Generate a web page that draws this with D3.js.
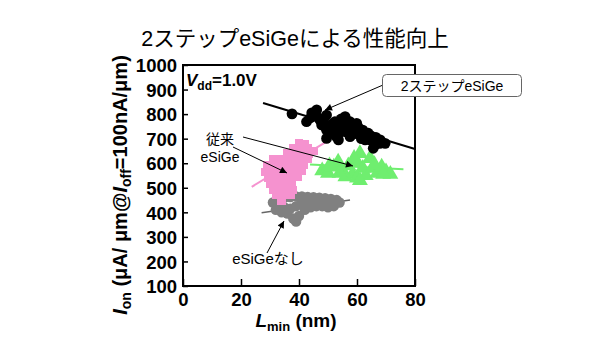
<!DOCTYPE html>
<html><head><meta charset="utf-8">
<script src="https://cdn.jsdelivr.net/npm/d3@7"></script>
<style>
body{margin:0;background:#fff;}
text{font-family:"Liberation Sans","Noto Sans CJK JP",Arial,sans-serif;}
</style></head>
<body><svg id="c" width="600" height="360"></svg>
<script>
// ---- data (Lmin nm, Ion uA/um) ----
const title = "2ステップeSiGeによる性能向上";
const xTicks = [0, 20, 40, 60, 80];
const yTicks = [100, 200, 300, 400, 500, 600, 700, 800, 900, 1000];

const twoStep = [[37.6,801],[42.6,769],[44.4,805],[46.1,817],[46.7,785],[47.2,776],[47.8,756],[49,749],[49.5,796],[49.5,735],[50.7,722],[49.5,701],[51.5,760],[52.4,769],[52.9,708],[53.6,695],[53.4,745],[54.5,780],[55.9,790],[55.3,742],[56.5,760],[57.6,769],[57.6,708],[58.7,735],[59.9,762],[60.5,745],[61,715],[62,735],[62.8,695],[63.9,722],[64.5,695],[65.6,661],[66.2,674],[66.5,705],[67.9,681],[69.7,681],[44,785],[45.5,795],[48.5,770],[51,745],[54,725],[56,728],[59,720],[61.5,700],[68,695],[65,710]];
const twoStepFit = [[27.6,845],[80,658]];

const conv = [[40,683],[42,678],[38,660],[40.5,660],[43,660],[45,650],[36,640],[38.5,640],[41,640],[43.5,640],[31,615],[33.5,615],[36,615],[38.5,615],[41,615],[43,618],[29,590],[31.5,590],[34,590],[36.5,590],[39,590],[41.5,592],[28.5,565],[31,565],[33.5,565],[36,565],[38.5,565],[41,568],[29.5,540],[32,540],[34.5,540],[37,540],[39.5,545],[30,515],[32.5,515],[35,515],[37.5,515],[31,490],[33.5,490],[36,490],[38,492],[32,470],[34.5,470],[37,470],[34,448]];
const convFit = [[23.7,504],[49.5,688]];

const noSiGe = [[31,440],[33,455],[35,460],[37,462],[39,465],[41,465],[43,463],[45,462],[47,460],[49,458],[51,455],[53,450],[54,440],[33,425],[35,420],[37,415],[39,425],[41,440],[43,440],[45,445],[47,440],[49,440],[51,435],[36,395],[38,375],[39,362],[40,385],[42,410],[44,420],[46,425],[48,425],[50,420],[52,425],[34,400],[32,410]];
const noSiGeFit = [[27.1,398],[57.6,450]];

const greenTri = [[48,570],[50,560],[52,585],[53.5,605],[55,570],[57,590],[58.5,555],[60,605],[61,640],[62,580],[63,550],[64.5,620],[65.5,580],[67,560],[68.5,585],[70,565],[71.5,555],[56,545],[60,540],[66,595],[59,620],[54,560],[50.5,590],[69,555],[61,530]];
const greenFit = [[43.8,595],[76,575]];

// ---- chart ----
const svg = d3.select("#c");
const x = d3.scaleLinear().domain([0, 80]).range([183, 415]);
const y = d3.scaleLinear().domain([100, 1000]).range([286, 65]);

svg.append("text").attr("x", 295).attr("y", 46).attr("text-anchor", "middle")
  .attr("font-size", 21.5).text(title);

const line = d3.line().x(d => x(d[0])).y(d => y(d[1]));

// no eSiGe (gray)
svg.append("path").datum(noSiGeFit).attr("d", line).attr("stroke", "#666").attr("stroke-width", 1.5).attr("fill", "none");
svg.append("g").selectAll("circle").data(noSiGe).join("circle")
  .attr("cx", d => x(d[0])).attr("cy", d => y(d[1])).attr("r", 5.2).attr("fill", "#808080");

// conventional eSiGe (pink)
svg.append("path").datum(convFit).attr("d", line).attr("stroke", "#f592cf").attr("stroke-width", 2).attr("fill", "none");
svg.append("g").attr("shape-rendering", "crispEdges").selectAll("rect").data(conv).join("rect")
  .attr("x", d => x(d[0]) - 4.2).attr("y", d => y(d[1]) - 4.2).attr("width", 8.4).attr("height", 8.4).attr("fill", "#f592cf");

// green
svg.append("path").datum(greenFit).attr("d", line).attr("stroke", "#6fee6f").attr("stroke-width", 2).attr("fill", "none");
const tri = d3.symbol().type(d3.symbolTriangle).size(110);
svg.append("g").selectAll("path").data(greenTri).join("path")
  .attr("d", tri).attr("transform", d => `translate(${x(d[0])},${y(d[1])})`).attr("fill", "#6fee6f");

// two-step eSiGe (black)
svg.append("path").datum(twoStepFit).attr("d", line).attr("stroke", "#000").attr("stroke-width", 2).attr("fill", "none");
svg.append("g").selectAll("circle").data(twoStep).join("circle")
  .attr("cx", d => x(d[0])).attr("cy", d => y(d[1])).attr("r", 5.4).attr("fill", "#000");

// axes
const ax = svg.append("g").attr("transform", "translate(0,286)")
  .call(d3.axisBottom(x).tickValues(xTicks).tickFormat(d3.format("d")).tickSizeInner(-7).tickSizeOuter(0).tickPadding(7));
const ay = svg.append("g").attr("transform", "translate(183,0)")
  .call(d3.axisLeft(y).tickValues(yTicks).tickFormat(d3.format("d")).tickSizeInner(-5).tickSizeOuter(0).tickPadding(6));
[ax, ay].forEach(g => {
  g.selectAll("text").attr("font-size", 18.5).attr("font-weight", "bold").attr("fill", "#000")
    .attr("font-family", "'Liberation Sans',Arial,sans-serif");
  g.selectAll("line").attr("stroke", "#000").attr("stroke-width", 1.5);
  g.select(".domain").remove();
});
ay.selectAll("text").attr("dy", "0.36em");
svg.append("rect").attr("x", 183).attr("y", 65).attr("width", 232).attr("height", 221)
  .attr("fill", "none").attr("stroke", "#000").attr("stroke-width", 2);

// Vdd label
const vt = svg.append("text").attr("x", 186).attr("y", 86).attr("font-size", 17).attr("font-weight", "bold");
vt.append("tspan").attr("font-style", "italic").text("V");
vt.append("tspan").attr("font-size", 12).attr("dy", 4).text("dd");
vt.append("tspan").attr("dy", -4).text("=1.0V");

// axis titles
const xl = svg.append("text").attr("x", 296).attr("y", 327).attr("text-anchor", "middle").attr("font-size", 19).attr("font-weight", "bold");
xl.append("tspan").attr("font-style", "italic").text("L");
xl.append("tspan").attr("font-size", 13).attr("dy", 4).text("min");
xl.append("tspan").attr("dy", -4).text(" (nm)");

const yl = svg.append("text").attr("transform", "translate(127,185) rotate(-90)").attr("text-anchor", "middle").attr("font-size", 20).attr("font-weight", "bold");
yl.append("tspan").attr("font-style", "italic").text("I");
yl.append("tspan").attr("font-size", 14).attr("dy", 4).text("on");
yl.append("tspan").attr("dy", -4).text(" (μA/ μm@");
yl.append("tspan").attr("font-style", "italic").text("I");
yl.append("tspan").attr("font-size", 14).attr("dy", 4).text("off");
yl.append("tspan").attr("dy", -4).text("=100nA/μm)");

// annotations
svg.append("defs").append("marker").attr("id", "ah").attr("viewBox", "0 0 10 10")
  .attr("refX", 10).attr("refY", 5).attr("markerWidth", 9).attr("markerHeight", 7)
  .attr("markerUnits", "userSpaceOnUse").attr("orient", "auto")
  .append("path").attr("d", "M0,0L10,5L0,10Z").attr("fill", "#000");
const arrows = [[383,85,325,110],[243,137,353,166],[233,147,287,173],[267,253,284,221]];
svg.append("g").selectAll("line").data(arrows).join("line")
  .attr("x1", d => d[0]).attr("y1", d => d[1]).attr("x2", d => d[2]).attr("y2", d => d[3])
  .attr("stroke", "#000").attr("stroke-width", 1).attr("marker-end", "url(#ah)");

svg.append("rect").attr("x", 382.5).attr("y", 74.5).attr("width", 139).attr("height", 22).attr("rx", 4)
  .attr("fill", "#fff").attr("stroke", "#666").attr("stroke-width", 1);
svg.append("text").attr("x", 452).attr("y", 91).attr("text-anchor", "middle").attr("font-size", 14).text("2ステップeSiGe");
svg.append("text").attr("x", 220).attr("y", 144).attr("text-anchor", "middle").attr("font-size", 14).text("従来");
svg.append("text").attr("x", 220).attr("y", 162).attr("text-anchor", "middle").attr("font-size", 14).text("eSiGe");
svg.append("text").attr("x", 268).attr("y", 264).attr("text-anchor", "middle").attr("font-size", 15).text("eSiGeなし");
</script></body></html>
